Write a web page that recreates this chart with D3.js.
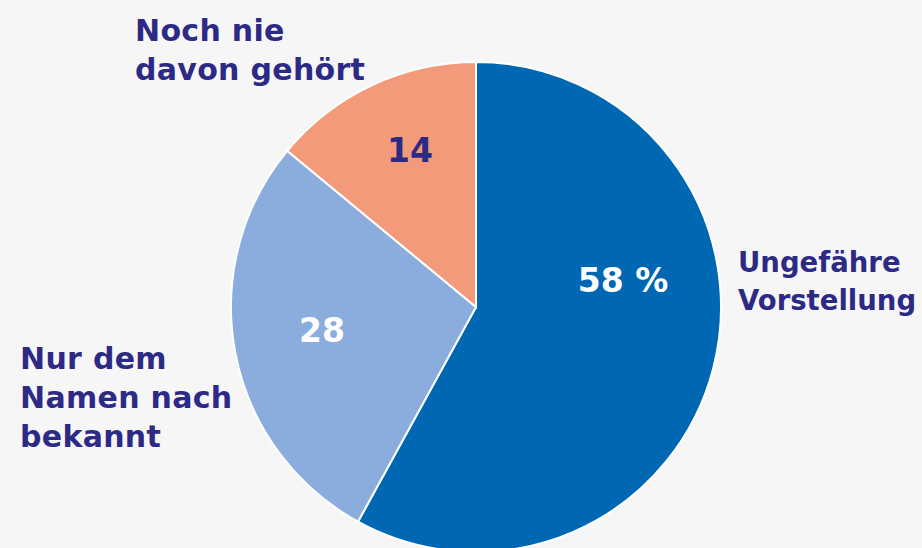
<!DOCTYPE html>
<html>
<head>
<meta charset="utf-8">
<script src="https://cdn.jsdelivr.net/npm/d3@7"></script>
<style>
  body { margin: 0; background: #f6f6f6; }
  svg { display: block; }
  text { font-family: "DejaVu Sans", sans-serif; font-weight: bold; }
</style>
</head>
<body>
<div id="chart"></div>
<script>
// values (percent)
const categories = ["Ungefähre Vorstellung", "Nur dem Namen nach bekannt", "Noch nie davon gehört"];
const values = [58, 28, 14];
const valueLabels = ["58 %", "28", "14"];
const colors = ["#0067b3", "#8aaddd", "#f39a7a"];
const valueColors = ["#ffffff", "#ffffff", "#2d2a86"];
const nameLines = [["Ungefähre", "Vorstellung"], ["Nur dem", "Namen nach", "bekannt"], ["Noch nie", "davon gehört"]];

const width = 922, height = 548;
const cx = 476, cy = 307, r = 245;

let svg = d3.select("#chart").append("svg")
    .attr("width", width)
    .attr("height", height);

svg.append("rect")
    .attr("width", width)
    .attr("height", height)
    .attr("fill", "#f6f6f6");

let pie = d3.pie().sort(null).value(d => d);
let arcs = pie(values);

let arc = d3.arc().innerRadius(0).outerRadius(r);

let g = svg.append("g")
    .attr("transform", "translate(" + cx + "," + cy + ")");

g.selectAll("path")
    .data(arcs)
    .enter().append("path")
    .attr("d", arc)
    .attr("fill", (d, i) => colors[i])
    .attr("stroke", "#ffffff")
    .attr("stroke-width", 2);

// value labels inside slices (offsets from the centre)
let valuePos = [[147, -27], [-154, 23], [-66, -157]];

g.selectAll(".val")
    .data(arcs)
    .enter().append("text")
    .attr("class", "val")
    .attr("x", (d, i) => valuePos[i][0])
    .attr("y", (d, i) => valuePos[i][1])
    .attr("text-anchor", "middle")
    .attr("dominant-baseline", "central")
    .attr("font-size", 33)
    .attr("fill", (d, i) => valueColors[i])
    .text((d, i) => valueLabels[i]);

// category names outside
const namePos = [[738, 262], [20, 358], [135, 30]];
const lineH = [38, 39, 39];
const nameSize = [27.5, 30, 30];
const nameSpacing = [0, 0.3, 0.3];

nameLines.forEach((lines, i) => {
    let t = svg.append("text")
        .attr("x", namePos[i][0])
        .attr("y", namePos[i][1])
        .attr("dominant-baseline", "central")
        .attr("font-size", nameSize[i])
        .attr("letter-spacing", nameSpacing[i])
        .attr("fill", "#2d2a86");
    lines.forEach((l, j) => {
        t.append("tspan")
            .attr("x", namePos[i][0])
            .attr("dy", j === 0 ? 0 : lineH[i])
            .text(l);
    });
});
</script>
</body>
</html>
